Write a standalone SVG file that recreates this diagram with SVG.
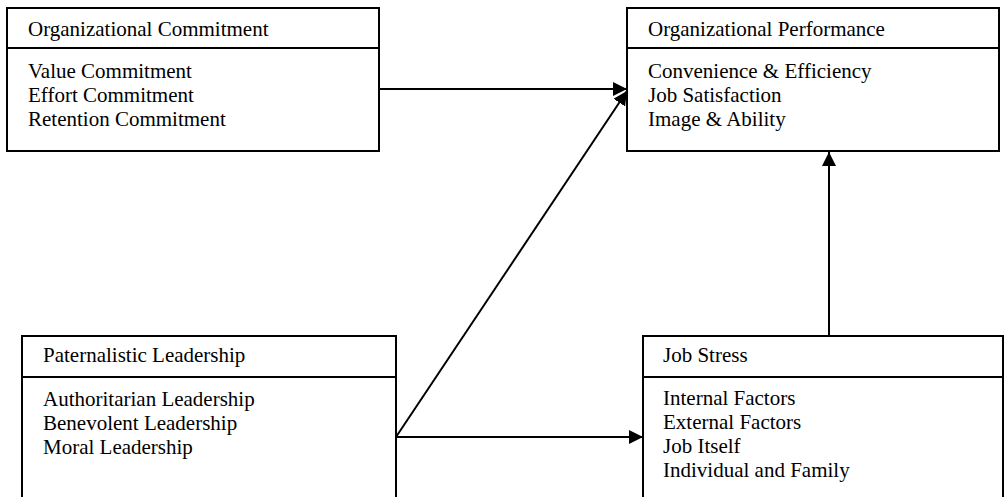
<svg xmlns="http://www.w3.org/2000/svg" width="1005" height="497" viewBox="0 0 1005 497">
<style>
.box{fill:#fff;stroke:#000;stroke-width:2}
.div{stroke:#000;stroke-width:2}
.t{font-family:"Liberation Serif","Times New Roman",serif;font-size:21px;fill:#000}
.c{stroke:#000;stroke-width:2;fill:none}
</style>
<defs>
<marker id="ah" markerWidth="14" markerHeight="14" refX="14" refY="7" orient="auto" markerUnits="userSpaceOnUse">
<path d="M0,0 L14,7 L0,14 Z" fill="#000"/>
</marker>
</defs>
<rect width="1005" height="497" fill="#fff"/>
<g id="org-commitment">
<rect class="box" x="7" y="8" width="372" height="143"/>
<line class="div" x1="7" y1="48" x2="379" y2="48"/>
<text class="t" x="28" y="36">Organizational Commitment</text>
<text class="t" x="28" y="78">Value Commitment</text>
<text class="t" x="28" y="102">Effort Commitment</text>
<text class="t" x="28" y="126">Retention Commitment</text>
</g>
<g id="org-performance">
<rect class="box" x="627" y="8" width="372" height="143"/>
<line class="div" x1="627" y1="48" x2="999" y2="48"/>
<text class="t" x="648" y="36">Organizational Performance</text>
<text class="t" x="648" y="78">Convenience &amp; Efficiency</text>
<text class="t" x="648" y="102">Job Satisfaction</text>
<text class="t" x="648" y="126">Image &amp; Ability</text>
</g>
<g id="paternalistic-leadership">
<rect class="box" x="22" y="336" width="374" height="175"/>
<line class="div" x1="22" y1="377" x2="396" y2="377"/>
<text class="t" x="43" y="362">Paternalistic Leadership</text>
<text class="t" x="43" y="406">Authoritarian Leadership</text>
<text class="t" x="43" y="430">Benevolent Leadership</text>
<text class="t" x="43" y="454">Moral Leadership</text>
</g>
<g id="job-stress">
<rect class="box" x="643" y="336" width="360" height="175"/>
<line class="div" x1="643" y1="377" x2="1003" y2="377"/>
<text class="t" x="663" y="362">Job Stress</text>
<text class="t" x="663" y="405">Internal Factors</text>
<text class="t" x="663" y="429">External Factors</text>
<text class="t" x="663" y="453">Job Itself</text>
<text class="t" x="663" y="477">Individual and Family</text>
</g>
<g id="connectors">
<line class="c" x1="379" y1="89" x2="627" y2="89" marker-end="url(#ah)"/>
<line class="c" x1="396" y1="437" x2="627" y2="91" marker-end="url(#ah)"/>
<line class="c" x1="396" y1="437" x2="643" y2="437" marker-end="url(#ah)"/>
<line class="c" x1="829" y1="336" x2="829" y2="152" marker-end="url(#ah)"/>
</g>
</svg>
